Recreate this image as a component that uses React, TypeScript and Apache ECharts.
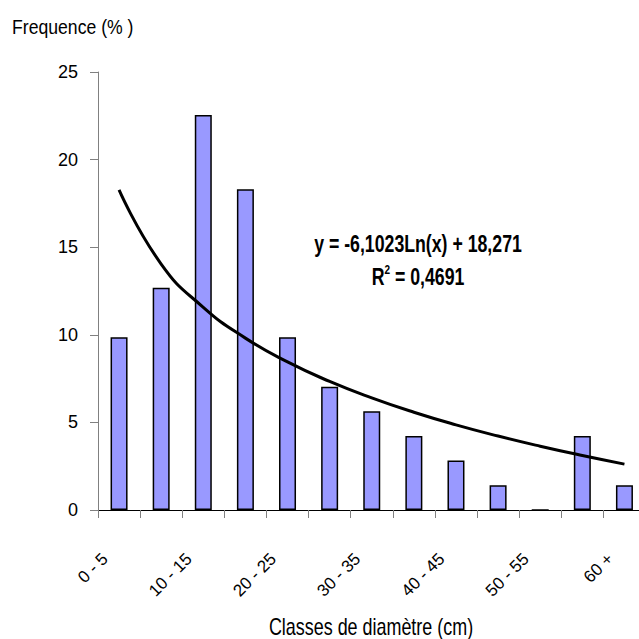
import React, { useEffect, useRef } from "react";
import * as echarts from "echarts";

const categories = ["0 - 5", "5 - 10", "10 - 15", "15 - 20", "20 - 25", "25 - 30", "30 - 35", "35 - 40", "40 - 45", "45 - 50", "50 - 55", "55 - 60", "60 +"];
const frequencies = [9.86, 12.68, 22.54, 18.31, 9.86, 7.04, 5.63, 4.23, 2.82, 1.41, 0, 4.23, 1.41];
const trendValues = [18.27, 14.04, 11.57, 9.81, 8.45, 7.34, 6.4, 5.58, 4.86, 4.22, 3.64, 3.11, 2.62];
const yTicks = { min: 0, max: 25, interval: 5 };
const yTitle = "Frequence (% )";
const xTitle = "Classes de diamètre (cm)";
const equationText = "y = -6,1023Ln(x) + 18,271";
const r2Value = "0,4691";

const FONT = "'Liberation Sans', Arial, sans-serif";

export default function App() {
  const ref = useRef<HTMLDivElement>(null);
  useEffect(() => {
    if (!ref.current) return;
    const chart = echarts.init(ref.current, null, { renderer: "svg" });
    chart.setOption({
      animation: false,
      backgroundColor: "#ffffff",
      textStyle: { fontFamily: FONT },
      grid: { left: 98, top: 72, height: 438, width: 547.5, outerBoundsMode: "none", containLabel: false },
      xAxis: {
        type: "category",
        data: categories,
        boundaryGap: true,
        axisLine: { show: true, lineStyle: { color: "#000000", width: 1 } },
        axisTick: { show: true, interval: 0, alignWithLabel: false, length: 8, lineStyle: { color: "#808080", width: 1 } },
        axisLabel: {
          interval: 1,
          rotate: 45,
          margin: 32,
          fontSize: 17,
          color: "#000000",
          fontFamily: FONT,
          formatter: (v: string) => `{t|${v}}{g| }`,
          rich: {
            t: { fontSize: 17, fontFamily: FONT, color: "#000000" },
            g: { width: 20, fontSize: 17 },
          },
        },
        splitLine: { show: false },
      },
      yAxis: {
        type: "value",
        min: yTicks.min,
        max: yTicks.max,
        interval: yTicks.interval,
        axisLine: { show: true, lineStyle: { color: "#808080", width: 1 } },
        axisTick: { show: true, length: 8, lineStyle: { color: "#808080", width: 1 } },
        axisLabel: { margin: 20, fontSize: 18, color: "#000000", fontFamily: FONT },
        splitLine: { show: false },
      },
      series: [
        {
          type: "bar",
          data: frequencies,
          barWidth: 17,
          itemStyle: { color: "#9999FF", borderColor: "#000000", borderWidth: 1.5 },
          z: 2,
        },
        {
          type: "line",
          data: trendValues,
          smooth: true,
          symbol: "none",
          lineStyle: { color: "#000000", width: 3 },
          z: 3,
        },
      ],
      graphic: [
        {
          type: "text",
          x: 12,
          y: 26,
          scaleX: 0.84,
          style: { text: yTitle, font: `21px ${FONT}`, fill: "#000000", textAlign: "left", textVerticalAlign: "middle" },
        },
        {
          type: "text",
          x: 371,
          y: 627,
          scaleX: 0.78,
          style: { text: xTitle, font: `23px ${FONT}`, fill: "#000000", textAlign: "center", textVerticalAlign: "middle" },
        },
        {
          type: "text",
          x: 418,
          y: 244,
          scaleX: 0.77,
          style: { text: equationText, font: `bold 23px ${FONT}`, fill: "#000000", textAlign: "center", textVerticalAlign: "middle" },
        },
        {
          type: "text",
          x: 418,
          y: 277,
          scaleX: 0.77,
          style: {
            text: "{r|R}{s|2}{r| = " + r2Value + "}",
            textAlign: "center",
            textVerticalAlign: "middle",
            fill: "#000000",
            rich: {
              r: { fontSize: 23, fontWeight: "bold", fontFamily: FONT, fill: "#000000" },
              s: { fontSize: 13, fontWeight: "bold", fontFamily: FONT, fill: "#000000", padding: [0, 0, 16, 0] },
            },
          },
        },
      ],
    });
    return () => chart.dispose();
  }, []);
  return <div ref={ref} style={{ position: "fixed", left: 0, top: 0, width: 639, height: 639 }} />;
}
